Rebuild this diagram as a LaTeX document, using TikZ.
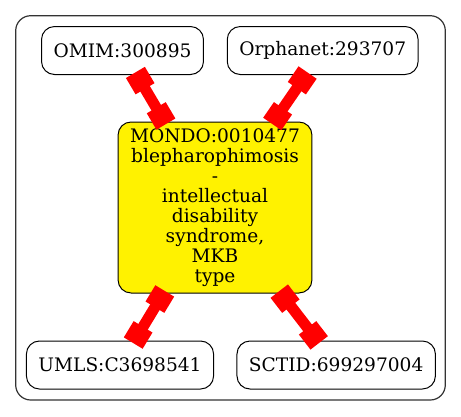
\documentclass[tikz,border=0pt]{standalone}
\usepackage{fontspec}
\setmainfont{DejaVu Serif}
\usetikzlibrary{positioning,arrows.meta}

\begin{document}
\begin{tikzpicture}[on grid,
					font=\fontsize{18.6pt}{20pt}\selectfont,
					main node/.style={rectangle,rounded corners=13pt,draw,line width=1pt,
					                  inner xsep=12pt,inner ysep=2pt,minimum height=48pt,align=center},
					term node/.style={main node,fill=yellow,minimum width=193pt,minimum height=171pt},
					link/.style={red,line width=11pt,
					             {Square[length=19pt,width=22pt]}-{Square[length=19pt,width=22pt]},
					             shorten <=-3pt,shorten >=-3pt}]

  \useasboundingbox (0,0) rectangle (461pt,-416pt);
  \draw[line width=1.2pt,black!80,rounded corners=15pt] (15.7pt,-15.7pt) rectangle (445.3pt,-400pt);

  \node[term node] (mondo) at (215pt,-207.5pt)
    {MONDO:0010477\\blepharophimosis\\-\\intellectual\\disability\\syndrome,\\MKB\\type};
  \node[main node] (omim) [above left=157pt and 92.5pt of mondo] {OMIM:300895};
  \node[main node] (orpha) [above right=157pt and 107.7pt of mondo] {Orphanet:293707};
  \node[main node] (umls) [below left=157.5pt and 95pt of mondo] {UMLS:C3698541};
  \node[main node] (sctid) [below right=157.5pt and 121.2pt of mondo] {SCTID:699297004};

  \path[link]
    (mondo) edge (omim)
            edge (orpha)
            edge (umls)
            edge (sctid);
\end{tikzpicture}
\end{document}
